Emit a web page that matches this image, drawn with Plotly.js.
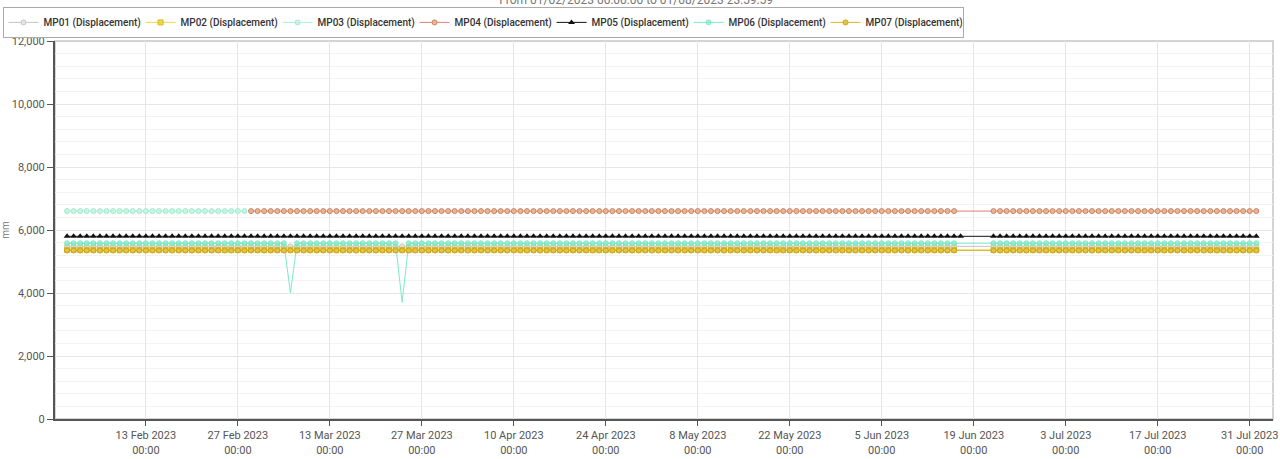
<!DOCTYPE html>
<html>
<head>
<meta charset="utf-8">
<script src="https://cdn.plot.ly/plotly-3.0.1.min.js"></script>
<style>
html, body { margin: 0; padding: 0; background: #fff; }
#chart { width: 1280px; height: 459px; }
</style>
</head>
<body>
<div id="chart"></div>
<script>
// daily readings, 1 Feb 2023 -> 1 Aug 2023, with a short outage in June
const firstDay = '2023-02-01';
const lastDay = '2023-08-01';
const gapDays = ['2023-06-17', '2023-06-18', '2023-06-19', '2023-06-20', '2023-06-21'];
const gapDaysMP05 = ['2023-06-18', '2023-06-19', '2023-06-20', '2023-06-21'];
const mp03LastDay = '2023-02-28';

const seriesNames = ['MP01 (Displacement)', 'MP02 (Displacement)', 'MP03 (Displacement)',
    'MP04 (Displacement)', 'MP05 (Displacement)', 'MP06 (Displacement)', 'MP07 (Displacement)'];

const mp01 = [
    5480,5480,5480,5480,5480,5480,5480,5480,5480,5480,5480,5480,5480,5480,5480,5480,5480,5480,5480,5480,
    5480,5480,5480,5480,5480,5480,5480,5480,5480,5480,5480,5480,5480,5480,5480,5480,5480,5480,5480,5480,
    5480,5480,5480,5480,5480,5480,5480,5480,5480,5480,5480,5480,5480,5480,5480,5480,5480,5480,5480,5480,
    5480,5480,5480,5480,5480,5480,5480,5480,5480,5480,5480,5480,5480,5480,5480,5480,5480,5480,5480,5480,
    5480,5480,5480,5480,5480,5480,5480,5480,5480,5480,5480,5480,5480,5480,5480,5480,5480,5480,5480,5480,
    5480,5480,5480,5480,5480,5480,5480,5480,5480,5480,5480,5480,5480,5480,5480,5480,5480,5480,5480,5480,
    5480,5480,5480,5480,5480,5480,5480,5480,5480,5480,5480,5480,5480,5480,5480,5480,5480,5480,5480,5480,
    5480,5480,5480,5480,5480,5480,5480,5480,5480,5480,5480,5480,5480,5480,5480,5480,5480,5480,5480,5480,
    5480,5480,5480,5480,5480,5480,5480,5480,5480,5480,5480,5480,5480,5480,5480,5480,5480
];
const mp02 = [
    5370,5370,5370,5370,5370,5370,5370,5370,5370,5370,5370,5370,5370,5370,5370,5370,5370,5370,5370,5370,
    5370,5370,5370,5370,5370,5370,5370,5370,5370,5370,5370,5370,5370,5370,5370,5370,5370,5370,5370,5370,
    5370,5370,5370,5370,5370,5370,5370,5370,5370,5370,5370,5370,5370,5370,5370,5370,5370,5370,5370,5370,
    5370,5370,5370,5370,5370,5370,5370,5370,5370,5370,5370,5370,5370,5370,5370,5370,5370,5370,5370,5370,
    5370,5370,5370,5370,5370,5370,5370,5370,5370,5370,5370,5370,5370,5370,5370,5370,5370,5370,5370,5370,
    5370,5370,5370,5370,5370,5370,5370,5370,5370,5370,5370,5370,5370,5370,5370,5370,5370,5370,5370,5370,
    5370,5370,5370,5370,5370,5370,5370,5370,5370,5370,5370,5370,5370,5370,5370,5370,5370,5370,5370,5370,
    5370,5370,5370,5370,5370,5370,5370,5370,5370,5370,5370,5370,5370,5370,5370,5370,5370,5370,5370,5370,
    5370,5370,5370,5370,5370,5370,5370,5370,5370,5370,5370,5370,5370,5370,5370,5370,5370
];
// only reported during February
const mp03 = [
    6600,6600,6600,6600,6600,6600,6600,6600,6600,6600,6600,6600,6600,6600,6600,6600,6600,6600,6600,6600,
    6600,6600,6600,6600,6600,6600,6600,6600
];
// from 1 March onwards
const mp04 = [
    6600,6600,6600,6600,6600,6600,6600,6600,6600,6600,6600,6600,6600,6600,6600,6600,6600,6600,6600,6600,
    6600,6600,6600,6600,6600,6600,6600,6600,6600,6600,6600,6600,6600,6600,6600,6600,6600,6600,6600,6600,
    6600,6600,6600,6600,6600,6600,6600,6600,6600,6600,6600,6600,6600,6600,6600,6600,6600,6600,6600,6600,
    6600,6600,6600,6600,6600,6600,6600,6600,6600,6600,6600,6600,6600,6600,6600,6600,6600,6600,6600,6600,
    6600,6600,6600,6600,6600,6600,6600,6600,6600,6600,6600,6600,6600,6600,6600,6600,6600,6600,6600,6600,
    6600,6600,6600,6600,6600,6600,6600,6600,6600,6600,6600,6600,6600,6600,6600,6600,6600,6600,6600,6600,
    6600,6600,6600,6600,6600,6600,6600,6600,6600,6600,6600,6600,6600,6600,6600,6600,6600,6600,6600,6600,
    6600,6600,6600,6600,6600,6600,6600,6600,6600
];
const mp05 = [
    5800,5800,5800,5800,5800,5800,5800,5800,5800,5800,5800,5800,5800,5800,5800,5800,5800,5800,5800,5800,
    5800,5800,5800,5800,5800,5800,5800,5800,5800,5800,5800,5800,5800,5800,5800,5800,5800,5800,5800,5800,
    5800,5800,5800,5800,5800,5800,5800,5800,5800,5800,5800,5800,5800,5800,5800,5800,5800,5800,5800,5800,
    5800,5800,5800,5800,5800,5800,5800,5800,5800,5800,5800,5800,5800,5800,5800,5800,5800,5800,5800,5800,
    5800,5800,5800,5800,5800,5800,5800,5800,5800,5800,5800,5800,5800,5800,5800,5800,5800,5800,5800,5800,
    5800,5800,5800,5800,5800,5800,5800,5800,5800,5800,5800,5800,5800,5800,5800,5800,5800,5800,5800,5800,
    5800,5800,5800,5800,5800,5800,5800,5800,5800,5800,5800,5800,5800,5800,5800,5800,5800,5800,5800,5800,
    5800,5800,5800,5800,5800,5800,5800,5800,5800,5800,5800,5800,5800,5800,5800,5800,5800,5800,5800,5800,
    5800,5800,5800,5800,5800,5800,5800,5800,5800,5800,5800,5800,5800,5800,5800,5800,5800,5800
];
// two drops: 7 Mar and 24 Mar
const mp06 = [
    5580,5580,5580,5580,5580,5580,5580,5580,5580,5580,5580,5580,5580,5580,5580,5580,5580,5580,5580,5580,
    5580,5580,5580,5580,5580,5580,5580,5580,5580,5580,5580,5580,5580,5580,4000,5580,5580,5580,5580,5580,
    5580,5580,5580,5580,5580,5580,5580,5580,5580,5580,5580,3700,5580,5580,5580,5580,5580,5580,5580,5580,
    5580,5580,5580,5580,5580,5580,5580,5580,5580,5580,5580,5580,5580,5580,5580,5580,5580,5580,5580,5580,
    5580,5580,5580,5580,5580,5580,5580,5580,5580,5580,5580,5580,5580,5580,5580,5580,5580,5580,5580,5580,
    5580,5580,5580,5580,5580,5580,5580,5580,5580,5580,5580,5580,5580,5580,5580,5580,5580,5580,5580,5580,
    5580,5580,5580,5580,5580,5580,5580,5580,5580,5580,5580,5580,5580,5580,5580,5580,5580,5580,5580,5580,
    5580,5580,5580,5580,5580,5580,5580,5580,5580,5580,5580,5580,5580,5580,5580,5580,5580,5580,5580,5580,
    5580,5580,5580,5580,5580,5580,5580,5580,5580,5580,5580,5580,5580,5580,5580,5580,5580
];
const mp07 = [
    5350,5350,5350,5350,5350,5350,5350,5350,5350,5350,5350,5350,5350,5350,5350,5350,5350,5350,5350,5350,
    5350,5350,5350,5350,5350,5350,5350,5350,5350,5350,5350,5350,5350,5350,5350,5350,5350,5350,5350,5350,
    5350,5350,5350,5350,5350,5350,5350,5350,5350,5350,5350,5350,5350,5350,5350,5350,5350,5350,5350,5350,
    5350,5350,5350,5350,5350,5350,5350,5350,5350,5350,5350,5350,5350,5350,5350,5350,5350,5350,5350,5350,
    5350,5350,5350,5350,5350,5350,5350,5350,5350,5350,5350,5350,5350,5350,5350,5350,5350,5350,5350,5350,
    5350,5350,5350,5350,5350,5350,5350,5350,5350,5350,5350,5350,5350,5350,5350,5350,5350,5350,5350,5350,
    5350,5350,5350,5350,5350,5350,5350,5350,5350,5350,5350,5350,5350,5350,5350,5350,5350,5350,5350,5350,
    5350,5350,5350,5350,5350,5350,5350,5350,5350,5350,5350,5350,5350,5350,5350,5350,5350,5350,5350,5350,
    5350,5350,5350,5350,5350,5350,5350,5350,5350,5350,5350,5350,5350,5350,5350,5350,5350
];

function dayList(from, to, skip) {
    const out = [];
    let d = new Date(from + 'T00:00:00Z');
    const end = new Date(to + 'T00:00:00Z');
    while (d <= end) {
        const s = d.toISOString().slice(0, 10);
        if (skip.indexOf(s) === -1) out.push(s);
        d = new Date(d.getTime() + 86400000);
    }
    return out;
}

const dates = dayList(firstDay, lastDay, gapDays);
const datesMP05 = dayList(firstDay, lastDay, gapDaysMP05);
const datesMP03 = dates.filter(d => d <= mp03LastDay);
const datesMP04 = dates.filter(d => d > mp03LastDay);

function trace(name, x, y, color, marker) {
    return {
        x: x, y: y, name: name,
        type: 'scatter', mode: 'lines+markers',
        line: { color: color, width: 1 },
        marker: marker
    };
}

// the drop readings have no marker drawn in the original, only the line
const mp06Sizes = mp06.map(v => (v < 5000 ? 0 : 5));

const traces = [
    trace(seriesNames[0], dates, mp01, '#c4c4c4',
        { symbol: 'circle', size: 5, color: '#e4e4e4', line: { color: '#c6c6c6', width: 1 } }),
    trace(seriesNames[1], dates, mp02, '#f2d64a',
        { symbol: 'square', size: 5, color: '#f2d64a', line: { color: '#d8b82a', width: 1 } }),
    trace(seriesNames[2], datesMP03, mp03, '#a9f0d6',
        { symbol: 'circle', size: 5, color: '#c4f6e4', line: { color: '#a4ead0', width: 1 } }),
    trace(seriesNames[3], datesMP04, mp04, '#e07f72',
        { symbol: 'circle', size: 5, color: '#ecb592', line: { color: '#c98464', width: 1 } }),
    trace(seriesNames[4], datesMP05, mp05, '#111111',
        { symbol: 'triangle-up', size: 6, color: '#111111' }),
    trace(seriesNames[5], dates, mp06, '#7de9c4',
        { symbol: 'circle', size: mp06Sizes, color: '#78f0c8', line: { color: '#5cdcb0', width: 1 } }),
    trace(seriesNames[6], dates, mp07, '#dcb626',
        { symbol: 'circle', size: 5, color: '#e6c43a', line: { color: '#c8a218', width: 1 } })
];

const layout = {
    width: 1280,
    height: 459,
    margin: { l: 55, r: 7, t: 41, b: 40 },
    paper_bgcolor: '#ffffff',
    plot_bgcolor: '#ffffff',
    font: { family: 'Roboto, sans-serif', size: 11, color: '#555' },
    title: {
        text: 'From 01/02/2023 00:00:00 to 01/08/2023 23:59:59',
        font: { family: 'Roboto, sans-serif', size: 12, color: '#777' },
        x: 0.497, xanchor: 'center',
        y: 1.0, yanchor: 'middle'
    },
    showlegend: true,
    legend: {
        orientation: 'h',
        xref: 'container', yref: 'container',
        x: 0.002, xanchor: 'left',
        y: 0.985, yanchor: 'top',
        bgcolor: '#ffffff',
        bordercolor: '#aaaaaa',
        borderwidth: 1,
        itemwidth: 30,
        entrywidth: 92,
        font: { family: 'Roboto, sans-serif', size: 10, color: '#333', weight: 500 }
    },
    xaxis: {
        type: 'date',
        range: ['2023-01-30 04:00', '2023-08-03 13:00'],
        tick0: '2023-02-13',
        dtick: 14 * 86400000,
        tickformat: '%-d %b %Y<br>%H:%M',
        showgrid: true,
        gridcolor: '#e6e6e6',
        showline: true,
        linecolor: '#555',
        linewidth: 2,
        ticks: 'outside',
        ticklen: 5,
        tickcolor: '#555',
        zeroline: false,
        tickfont: { size: 11, color: '#555' }
    },
    yaxis: {
        range: [0, 12000],
        dtick: 2000,
        tickformat: ',d',
        showgrid: true,
        gridcolor: '#e6e6e6',
        minor: { dtick: 400, showgrid: true, gridcolor: '#f3f3f3' },
        showline: true,
        linecolor: '#555',
        linewidth: 2,
        ticks: 'outside',
        ticklen: 6,
        tickcolor: '#555',
        zeroline: false,
        tickfont: { size: 11, color: '#555' },
        title: { text: 'mm', standoff: 4, font: { size: 10, color: '#777' } }
    },
    shapes: [{
        type: 'rect', xref: 'paper', yref: 'paper',
        x0: 0, x1: 1, y0: 0, y1: 1,
        line: { color: '#d4d4d4', width: 2 },
        layer: 'below'
    }]
};

Plotly.newPlot('chart', traces, layout, { displayModeBar: false, staticPlot: true });
</script>
</body>
</html>
